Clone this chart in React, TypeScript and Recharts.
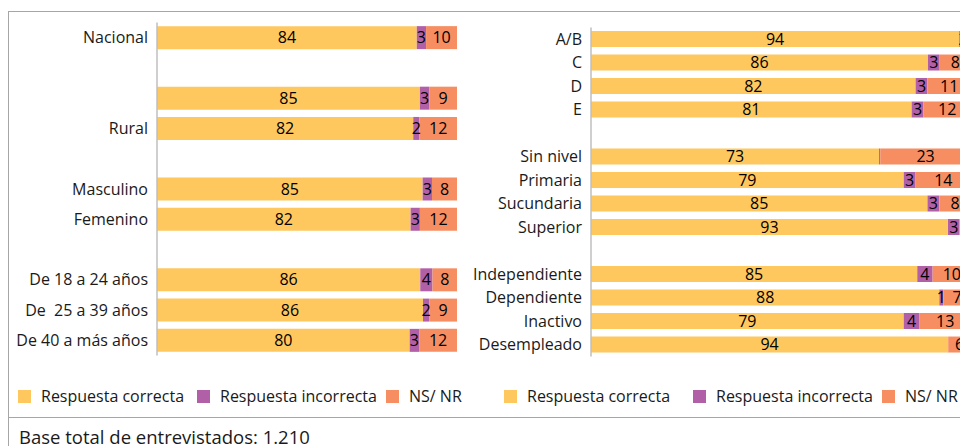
import React from 'react';
import { BarChart, Bar, XAxis, YAxis, LabelList } from 'recharts';

// Left panel (ámbito, sexo, edad)
const leftCategories = ['Nacional', '', '', 'Rural', '', 'Masculino', 'Femenino', '', 'De 18 a 24 años', 'De  25 a 39 años', 'De 40 a más años'];
const leftCorrect = [84, null, 85, 82, null, 85, 82, null, 86, 86, 80];
const leftIncorrect = [3, null, 3, 2, null, 3, 3, null, 4, 2, 3];
const leftNsnr = [10, null, 9, 12, null, 8, 12, null, 8, 9, 12];

// Right panel (NSE, educación, ocupación)
const rightCategories = ['A/B', 'C', 'D', 'E', '', 'Sin nivel', 'Primaria', 'Sucundaria', 'Superior', '', 'Independiente', 'Dependiente', 'Inactivo', 'Desempleado'];
const rightCorrect = [94, 86, 82, 81, null, 73, 79, 85, 93, null, 85, 88, 79, 94];
const rightIncorrect = [2, 3, 3, 3, null, 0.3, 3, 3, 3, null, 4, 1, 4, 0];
const rightNsnr = [1, 8, 11, 12, null, 23, 14, 8, 3, null, 10, 7, 13, 6];

const seriesNames = ['Respuesta correcta', 'Respuesta incorrecta', 'NS/ NR'];
const COLORS = ['#FFC85F', '#B160A8', '#F68E62'];

const FONT = '"Open Sans", sans-serif';
const TEXT = '#1a1a1a';

type Row = { id: number; correct: number | null; incorrect: number | null; nsnr: number | null };

const build = (c: (number | null)[], i: (number | null)[], n: (number | null)[]): Row[] =>
  c.map((v, k) => ({ id: k, correct: v, incorrect: i[k], nsnr: n[k] }));

const leftData = build(leftCorrect, leftIncorrect, leftNsnr);
const rightData = build(rightCorrect, rightIncorrect, rightNsnr);

const fmt = (v: any) => (v == null || v < 1 ? '' : String(v));
// keep double spaces visible in svg text
const keepSpaces = (s: string) => (s || '').replace(/  /g, ' \u00a0');

function Panel({
  data,
  categories,
  width,
  height,
  axisWidth,
  margin,
  gap,
}: {
  data: Row[];
  categories: string[];
  width: number;
  height: number;
  axisWidth: number;
  margin: { top: number; right: number; bottom: number; left: number };
  gap: string;
}) {
  const keys: (keyof Row)[] = ['correct', 'incorrect', 'nsnr'];
  return (
    <BarChart
      width={width}
      height={height}
      data={data}
      layout="vertical"
      stackOffset="expand"
      margin={margin}
      barCategoryGap={gap}
    >
      <XAxis type="number" hide domain={[0, 1]} />
      <YAxis
        type="category"
        dataKey="id"
        width={axisWidth}
        tickLine={false}
        tickSize={0}
        tickMargin={9}
        axisLine={{ stroke: '#BFBFBF', strokeWidth: 1.5 }}
        interval={0}
        tickFormatter={(v: number) => keepSpaces(categories[v])}
        tick={{ fill: TEXT, fontSize: 16, fontFamily: FONT }}
      />
      {keys.map((k, i) => (
        <Bar key={k} dataKey={k} stackId="a" fill={COLORS[i]} isAnimationActive={false}>
          <LabelList
            dataKey={k}
            position="center"
            formatter={fmt}
            style={{ fill: '#000', fontSize: 16, fontFamily: FONT }}
          />
        </Bar>
      ))}
    </BarChart>
  );
}

function LegendRow({ left }: { left: number[] }) {
  return (
    <>
      {seriesNames.map((name, i) => (
        <div
          key={name}
          style={{
            position: 'absolute',
            left: left[i],
            top: 382,
            height: 13,
            display: 'flex',
            alignItems: 'center',
            whiteSpace: 'nowrap',
          }}
        >
          <span style={{ width: 13, height: 13, background: COLORS[i], display: 'inline-block' }} />
          <span style={{ marginLeft: 10, fontSize: 16, lineHeight: '13px', color: TEXT }}>{name}</span>
        </div>
      ))}
    </>
  );
}

export default function App() {
  const line = '#A6A6A6';
  return (
    <>
      <style>{'html,body{overflow:hidden}'}</style>
      <div
        style={{
          position: 'relative',
          width: 960,
          height: 438,
          overflow: 'hidden',
          fontFamily: FONT,
          background: '#fff',
        }}
      >
        <div style={{ position: 'absolute', left: 0, top: 3, width: 960, height: 1, background: line }} />
        <div style={{ position: 'absolute', left: 0, top: 3, width: 1, height: 435, background: line }} />
        <div style={{ position: 'absolute', left: 0, top: 409, width: 960, height: 1, background: line }} />

        <div style={{ position: 'absolute', left: 0, top: 0 }}>
          <Panel
            data={leftData}
            categories={leftCategories}
            width={450}
            height={360}
            axisWidth={149}
            margin={{ top: 14.5, right: 1, bottom: 12.5, left: 0 }}
            gap="12%"
          />
        </div>

        <div style={{ position: 'absolute', left: 440, top: 0 }}>
          <Panel
            data={rightData}
            categories={rightCategories}
            width={523}
            height={360}
            axisWidth={143}
            margin={{ top: 19.5, right: 0, bottom: 11.5, left: 0 }}
            gap="15%"
          />
        </div>

        <LegendRow left={[10, 189, 378]} />
        <LegendRow left={[496, 685, 874]} />

        <div
          style={{
            position: 'absolute',
            left: 11,
            top: 419,
            fontSize: 18.5,
            lineHeight: '20px',
            color: TEXT,
            whiteSpace: 'nowrap',
          }}
        >
          Base total de entrevistados: 1.210
        </div>
      </div>
    </>
  );
}
